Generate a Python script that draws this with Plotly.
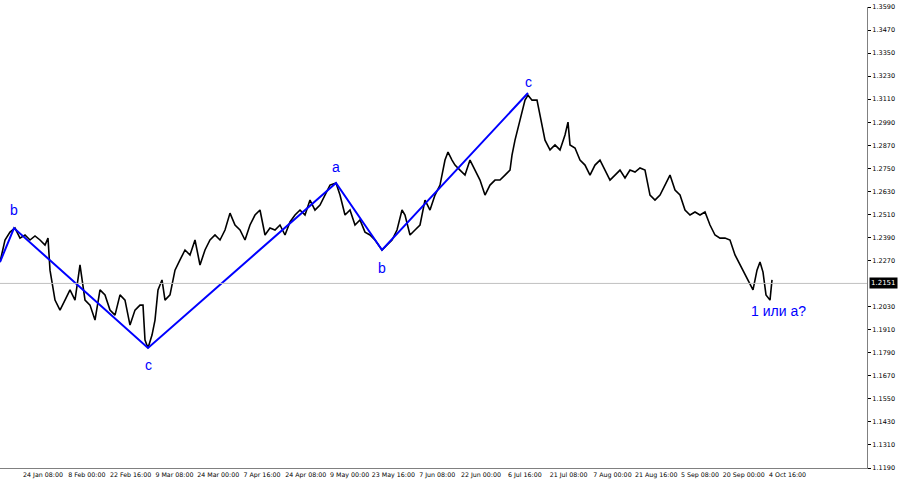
import plotly.graph_objects as go

# price path (x in bar-position units, price)
pos = [0,5,10,15,20,25,30,35,40,45,48,50,55,60,65,70,75,80,85,90,95,100,105,110,115,120,125,130,135,140,143,145,148,152,155,158,162,165,170,175,180,185,190,195,200,205,210,215,220,225,230,235,240,245,250,255,260,265,270,275,280,285,290,295,300,305,310,315,320,325,330,336,340,345,350,355,360,365,370,375,382,387,392,397,402,405,410,415,420,425,430,435,440,445,448,452,455,460,465,470,475,480,485,490,495,500,505,510,512,515,520,525,528,532,537,540,545,550,555,560,565,568,570,575,580,585,590,595,600,605,610,615,620,625,630,635,640,645,650,655,660,665,670,675,680,685,690,695,700,705,710,715,720,725,730,735,740,745,750,753,757,760,763,766,770,772]
price = [1.2262,1.2377,1.2418,1.2439,1.2387,1.2403,1.2377,1.2398,1.2377,1.2351,1.2387,1.2220,1.2064,1.2012,1.2064,1.2117,1.2064,1.2247,1.2064,1.2038,1.1960,1.2117,1.2091,1.2012,1.1986,1.2091,1.2064,1.1934,1.2012,1.2038,1.2038,1.1856,1.1815,1.1882,1.1960,1.2117,1.2169,1.2064,1.2091,1.2220,1.2273,1.2325,1.2299,1.2377,1.2247,1.2325,1.2377,1.2403,1.2377,1.2429,1.2517,1.2455,1.2429,1.2377,1.2455,1.2507,1.2533,1.2403,1.2439,1.2429,1.2455,1.2403,1.2471,1.2507,1.2533,1.2507,1.2585,1.2533,1.2559,1.2611,1.2663,1.2674,1.2611,1.2507,1.2533,1.2455,1.2481,1.2418,1.2403,1.2377,1.2325,1.2351,1.2377,1.2429,1.2533,1.2507,1.2403,1.2429,1.2455,1.2585,1.2533,1.2611,1.2663,1.2793,1.2835,1.2793,1.2767,1.2741,1.2715,1.2793,1.2741,1.2689,1.2611,1.2663,1.2689,1.2689,1.2715,1.2741,1.2819,1.2897,1.3001,1.3105,1.3131,1.3105,1.3105,1.3028,1.2897,1.2846,1.2872,1.2846,1.2924,1.2991,1.2872,1.2856,1.2793,1.2767,1.2715,1.2767,1.2793,1.2741,1.2689,1.2715,1.2741,1.2700,1.2741,1.2731,1.2752,1.2741,1.2611,1.2585,1.2611,1.2663,1.2715,1.2637,1.2611,1.2533,1.2507,1.2523,1.2507,1.2523,1.2455,1.2403,1.2387,1.2387,1.2377,1.2299,1.2247,1.2195,1.2143,1.2117,1.2220,1.2262,1.2210,1.2091,1.2064,1.2169]

wave_pos = [0,14,148,336,382,528]
wave_price = [1.2262,1.2439,1.1815,1.2674,1.2325,1.3142]
wave_labels = ["", "b", "c", "a", "b", "c"]
label_price = [None, 1.2535, 1.1725, 1.2755, 1.2230, 1.3200]

last_price = 1.2151
y_ticks = [1.1190,1.1310,1.1430,1.1550,1.1670,1.1790,1.1910,1.2030,1.2270,1.2390,1.2510,1.2630,1.2750,1.2870,1.2990,1.3110,1.3230,1.3350,1.3470,1.3590]
x_tick_labels = ["24 Jan 08:00","8 Feb 00:00","22 Feb 16:00","9 Mar 08:00","24 Mar 00:00","7 Apr 16:00","24 Apr 08:00","9 May 00:00","23 May 16:00","7 Jun 08:00","22 Jun 00:00","6 Jul 16:00","21 Jul 08:00","7 Aug 00:00","21 Aug 16:00","5 Sep 08:00","20 Sep 00:00","4 Oct 16:00"]
x_tick_pos = [43 + 43.8 * i for i in range(len(x_tick_labels))]

fig = go.Figure()
fig.add_hline(y=last_price, line=dict(color="#c0c0c0", width=1))
fig.add_trace(go.Scatter(x=pos, y=price, mode="lines", line=dict(color="black", width=1.6), hoverinfo="skip"))
fig.add_trace(go.Scatter(x=wave_pos, y=wave_price, mode="lines", line=dict(color="#0000ff", width=2), hoverinfo="skip"))
for p, lab, lp in zip(wave_pos, wave_labels, label_price):
    if lab:
        fig.add_annotation(x=p, y=lp, text=lab, showarrow=False, font=dict(color="#0000ff", size=14, family="Liberation Sans"))
fig.add_annotation(x=778, y=1.2005, text="1 или а?", showarrow=False, font=dict(color="#0000ff", size=14, family="Liberation Sans"))
fig.add_annotation(x=1, xref="paper", xanchor="left", xshift=2, y=last_price, text=f"{last_price:.4f}", showarrow=False,
                   bgcolor="black", font=dict(color="white", size=7, family="DejaVu Sans"), borderpad=1)

fig.update_layout(
    width=900, height=485, margin=dict(l=0, r=33, t=7, b=17, autoexpand=False),
    paper_bgcolor="white", plot_bgcolor="white", showlegend=False,
    xaxis=dict(range=[0, 867], tickvals=x_tick_pos, ticktext=x_tick_labels, showgrid=False, zeroline=False,
               showline=True, linecolor="#808080", tickangle=0, automargin=False,
               tickfont=dict(size=6.3, family="DejaVu Sans", color="black"), ticks=""),
    yaxis=dict(range=[1.1190, 1.3590], side="right", tickvals=y_ticks, ticktext=[f"{v:.4f}" for v in y_ticks],
               showgrid=False, zeroline=False, showline=True, linecolor="#808080", ticks="outside", ticklen=3,
               automargin=False, tickcolor="black", tickfont=dict(size=6.5, family="DejaVu Sans", color="black")),
)
fig.write_html("out.html", config={"displayModeBar": False}, post_script="document.body.style.margin='0';")
